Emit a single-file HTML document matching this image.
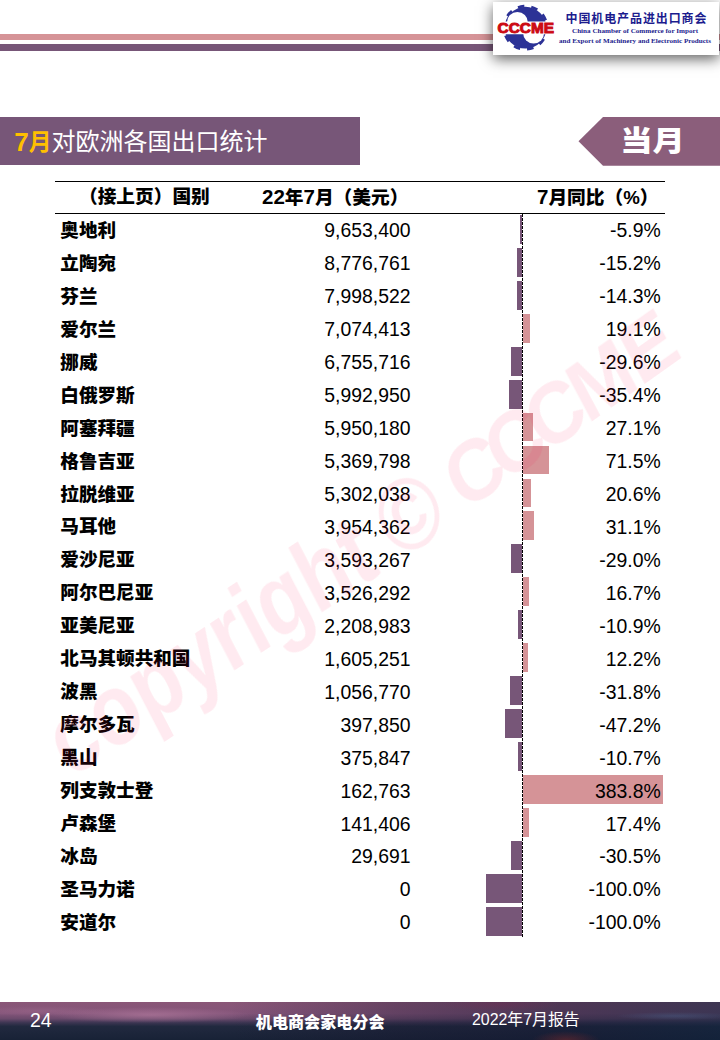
<!DOCTYPE html>
<html lang="zh-CN">
<head>
<meta charset="utf-8">
<title>7月对欧洲各国出口统计</title>
<style>
html,body{margin:0;padding:0;background:#fff;}
body{width:720px;height:1040px;position:relative;overflow:hidden;font-family:"Liberation Sans","Noto Sans CJK SC",sans-serif;color:#000;}
.abs{position:absolute;}
#s1{left:0;top:34px;width:720px;height:6px;background:#d59397;}
#s2{left:0;top:44px;width:720px;height:6.6px;background:#775678;}
#logo{left:493px;top:2px;width:226px;height:53px;background:#fff;box-shadow:0 4px 13px rgba(0,0,0,.62);}
#tbar{left:0;top:117px;width:360px;height:47.6px;background:#775678;color:#fff;font-size:24px;line-height:47.6px;white-space:nowrap;}
#tbar span{position:absolute;left:14.3px;top:1px;}
#tbar b{color:#ffc000;font-weight:700;font-size:22.8px;}
#tbar b i{font-style:normal;font-size:26px;position:relative;top:1px;}
#tag{left:578px;top:117px;width:142px;height:49px;}
#tagt{left:622px;top:117px;width:61px;text-align:center;transform:scale(1.057,.93);transform-origin:50% 50%;height:49px;line-height:48px;color:#fff;font-weight:900;font-size:30.5px;white-space:nowrap;font-family:"Liberation Sans","Noto Sans CJK SC",sans-serif;}
.hl{left:55px;width:610px;height:1.25px;background:#000;}
.h i{font-style:normal;font-size:20.5px;}
.h{top:181.4px;height:32px;line-height:31px;font-size:18.7px;font-weight:900;white-space:nowrap;}
.r{position:absolute;left:0;width:720px;height:32.95px;line-height:32.95px;white-space:nowrap;}
.r .c{position:absolute;left:60.3px;top:1.5px;font-size:18.6px;font-weight:900;}
.r .v{position:absolute;right:309.5px;top:1px;font-size:19.4px;}
.r .q{position:absolute;right:59.3px;top:1px;font-size:19.4px;}
.b{position:absolute;top:1.5px;height:28.9px;display:block;}
.b.n{background:#775678;}
.b.p{background:#d59397;}
#axis{left:522px;top:214px;width:1px;height:723px;background:repeating-linear-gradient(180deg,#000 0,#000 3px,transparent 3px,transparent 4px);}
#wm{left:0;top:0;pointer-events:none;}
#foot{left:0;top:1002px;width:720px;height:38px;color:#fff;background:
radial-gradient(ellipse 100px 8px at 150px 13px,rgba(190,130,165,.55),rgba(190,130,165,0) 100%),
radial-gradient(ellipse 70px 5px at 40px 9px,rgba(170,115,150,.35),rgba(170,115,150,0) 100%),
radial-gradient(ellipse 34px 9px at 566px 38px,rgba(110,40,45,.6),rgba(110,40,45,0) 100%),
radial-gradient(ellipse 60px 4px at 675px 14px,rgba(75,95,135,.45),rgba(75,95,135,0) 100%),
radial-gradient(ellipse 60px 8px at 500px 2px,rgba(120,40,80,.35),rgba(120,40,80,0) 100%),
linear-gradient(90deg,rgba(20,20,45,0) 0%,rgba(20,20,45,0) 32%,rgba(22,20,45,.30) 55%,rgba(20,24,50,.50) 78%,rgba(16,34,60,.62) 100%),
linear-gradient(180deg,#8a5677 0%,#84557a 30%,#6b4a6c 44%,#3e3653 54%,#21293f 64%,#182236 100%);}
#foot span{position:absolute;white-space:nowrap;top:0;height:38px;line-height:36px;}
</style>
</head>
<body>
<div id="s1" class="abs"></div>
<div id="s2" class="abs"></div>
<div id="logo" class="abs">
<svg width="226" height="53" viewBox="0 0 226 53">
<g transform="translate(32.5,25.7)">
<circle r="21.6" fill="none" stroke="#2c3296" stroke-width="2.6" stroke-dasharray="6.6 6.972" transform="rotate(-4.25)"/>
<circle r="20.9" fill="#2c3296"/>
<circle cx="-8.1" cy="-5.3" r="10.5" fill="#fff"/>
<circle cx="8.1" cy="5.3" r="10.5" fill="#fff"/>
</g>
<rect x="3.9" y="19.6" width="58" height="12.6" rx="1" fill="#fff"/>
<text x="32.8" y="31.2" text-anchor="middle" font-family="Liberation Sans, sans-serif" font-weight="700" font-size="15" fill="#cc0a14" stroke="#cc0a14" stroke-width="1" textLength="56.5" lengthAdjust="spacingAndGlyphs">CCCME</text>
<text x="143" y="21" text-anchor="middle" font-family="Liberation Sans, Noto Sans CJK SC, sans-serif" font-weight="700" font-size="12" fill="#1c1c8e" textLength="141">中国机电产品进出口商会</text>
<text x="142" y="31.2" text-anchor="middle" font-family="Liberation Serif, serif" font-weight="700" font-size="7" fill="#1c1c8e" textLength="126" lengthAdjust="spacingAndGlyphs">China Chamber of Commerce for Import</text>
<text x="142" y="41" text-anchor="middle" font-family="Liberation Serif, serif" font-weight="700" font-size="7" fill="#1c1c8e" textLength="152" lengthAdjust="spacingAndGlyphs">and Export of Machinery and Electronic Products</text>
</svg>
</div>
<div id="tbar" class="abs"><span><b><i>7</i>月</b>对欧洲各国出口统计</span></div>
<svg id="tag" class="abs" width="142" height="49" viewBox="0 0 142 49"><polygon points="0.5,24.3 25,0 142,0 142,48.8 25,48.8" fill="#8b5e7b"/></svg>
<div id="tagt" class="abs">当月</div>
<div class="abs hl" style="top:180.9px"></div>
<div class="abs hl" style="top:212.9px"></div>
<div class="abs h" style="left:79px">（接上页）国别</div>
<div class="abs h" style="left:262px"><i>22</i>年<i>7</i>月（美元）</div>
<div class="abs h" style="left:537px"><i>7</i>月同比（%）</div>
<div class="r" style="top:213.40px"><i class="b n" style="left:519.8px;width:2.2px"></i><span class="c">奥地利</span><span class="v">9,653,400</span><span class="q">-5.9%</span></div>
<div class="r" style="top:246.35px"><i class="b n" style="left:516.5px;width:5.5px"></i><span class="c">立陶宛</span><span class="v">8,776,761</span><span class="q">-15.2%</span></div>
<div class="r" style="top:279.30px"><i class="b n" style="left:516.8px;width:5.2px"></i><span class="c">芬兰</span><span class="v">7,998,522</span><span class="q">-14.3%</span></div>
<div class="r" style="top:312.25px"><i class="b p" style="left:523px;width:7.0px"></i><span class="c">爱尔兰</span><span class="v">7,074,413</span><span class="q">19.1%</span></div>
<div class="r" style="top:345.20px"><i class="b n" style="left:511.2px;width:10.8px"></i><span class="c">挪威</span><span class="v">6,755,716</span><span class="q">-29.6%</span></div>
<div class="r" style="top:378.15px"><i class="b n" style="left:509.1px;width:12.9px"></i><span class="c">白俄罗斯</span><span class="v">5,992,950</span><span class="q">-35.4%</span></div>
<div class="r" style="top:411.10px"><i class="b p" style="left:523px;width:9.9px"></i><span class="c">阿塞拜疆</span><span class="v">5,950,180</span><span class="q">27.1%</span></div>
<div class="r" style="top:444.05px"><i class="b p" style="left:523px;width:26.1px"></i><span class="c">格鲁吉亚</span><span class="v">5,369,798</span><span class="q">71.5%</span></div>
<div class="r" style="top:477.00px"><i class="b p" style="left:523px;width:7.5px"></i><span class="c">拉脱维亚</span><span class="v">5,302,038</span><span class="q">20.6%</span></div>
<div class="r" style="top:509.95px"><i class="b p" style="left:523px;width:11.4px"></i><span class="c">马耳他</span><span class="v">3,954,362</span><span class="q">31.1%</span></div>
<div class="r" style="top:542.90px"><i class="b n" style="left:511.4px;width:10.6px"></i><span class="c">爱沙尼亚</span><span class="v">3,593,267</span><span class="q">-29.0%</span></div>
<div class="r" style="top:575.85px"><i class="b p" style="left:523px;width:6.1px"></i><span class="c">阿尔巴尼亚</span><span class="v">3,526,292</span><span class="q">16.7%</span></div>
<div class="r" style="top:608.80px"><i class="b n" style="left:518.0px;width:4.0px"></i><span class="c">亚美尼亚</span><span class="v">2,208,983</span><span class="q">-10.9%</span></div>
<div class="r" style="top:641.75px"><i class="b p" style="left:523px;width:4.5px"></i><span class="c">北马其顿共和国</span><span class="v">1,605,251</span><span class="q">12.2%</span></div>
<div class="r" style="top:674.70px"><i class="b n" style="left:510.4px;width:11.6px"></i><span class="c">波黑</span><span class="v">1,056,770</span><span class="q">-31.8%</span></div>
<div class="r" style="top:707.65px"><i class="b n" style="left:504.8px;width:17.2px"></i><span class="c">摩尔多瓦</span><span class="v">397,850</span><span class="q">-47.2%</span></div>
<div class="r" style="top:740.60px"><i class="b n" style="left:518.1px;width:3.9px"></i><span class="c">黑山</span><span class="v">375,847</span><span class="q">-10.7%</span></div>
<div class="r" style="top:773.55px"><i class="b p" style="left:523px;width:140.1px"></i><span class="c">列支敦士登</span><span class="v">162,763</span><span class="q">383.8%</span></div>
<div class="r" style="top:806.50px"><i class="b p" style="left:523px;width:6.4px"></i><span class="c">卢森堡</span><span class="v">141,406</span><span class="q">17.4%</span></div>
<div class="r" style="top:839.45px"><i class="b n" style="left:510.9px;width:11.1px"></i><span class="c">冰岛</span><span class="v">29,691</span><span class="q">-30.5%</span></div>
<div class="r" style="top:872.40px"><i class="b n" style="left:485.5px;width:36.5px"></i><span class="c">圣马力诺</span><span class="v">0</span><span class="q">-100.0%</span></div>
<div class="r" style="top:905.35px"><i class="b n" style="left:485.5px;width:36.5px"></i><span class="c">安道尔</span><span class="v">0</span><span class="q">-100.0%</span></div>
<div id="axis" class="abs"></div>
<svg id="wm" class="abs" width="720" height="1040" viewBox="0 0 720 1040"><g font-family="Liberation Sans, sans-serif" font-weight="700" font-size="100" fill="rgb(255,20,80)" opacity="0.09"><text transform="matrix(0.6855 -0.4537 0.4617 0.8870 69.8 779.4)">copyright</text><text transform="matrix(0.7213 -0.4774 0.4617 0.8870 398.4 561.9)">©</text><text transform="matrix(0.6521 -0.4634 0.3944 0.7417 464.5 512.5)" letter-spacing="-10.5">CCC<tspan dx="4">M</tspan><tspan dx="8">E</tspan></text></g></svg>
<div id="foot" class="abs"><span style="left:30px;font-size:19.5px">24</span><span style="left:255.8px;top:1.5px;font-size:16.1px;font-weight:900">机电商会家电分会</span><span style="left:472px;font-size:15.9px">2022年7月报告</span></div>
</body>
</html>
